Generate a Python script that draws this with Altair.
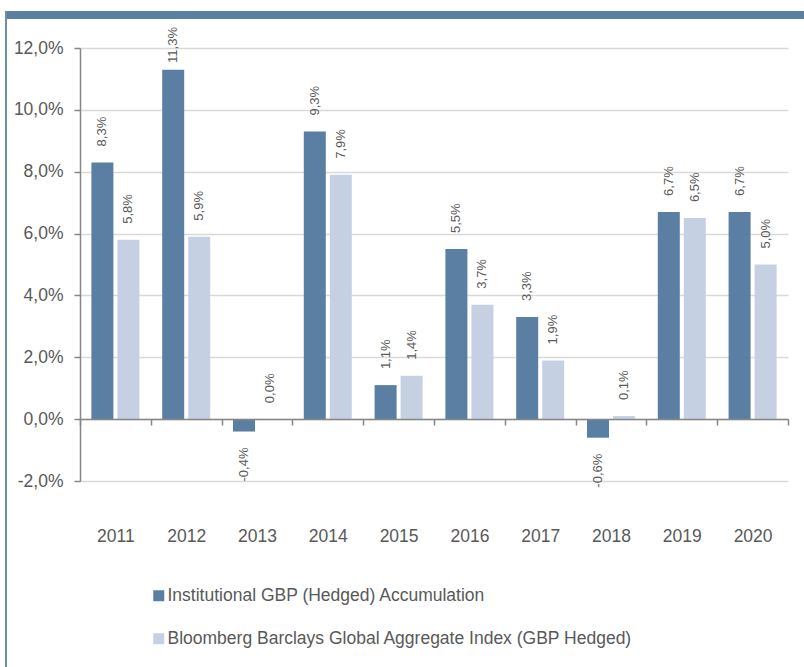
import altair as alt
import pandas as pd

years = ["2011", "2012", "2013", "2014", "2015", "2016", "2017", "2018", "2019", "2020"]
fund = [8.3, 11.3, -0.4, 9.3, 1.1, 5.5, 3.3, -0.6, 6.7, 6.7]
index = [5.8, 5.9, 0.0, 7.9, 1.4, 3.7, 1.9, 0.1, 6.5, 5.0]
series = ["Institutional GBP (Hedged) Accumulation",
          "Bloomberg Barclays Global Aggregate Index (GBP Hedged)"]
colors = ["#5b7fa3", "#c5d1e3"]
y_ticks = [-0.02, 0.0, 0.02, 0.04, 0.06, 0.08, 0.10, 0.12]

rows = []
for i, yr in enumerate(years):
    rows.append({"year": yr, "series": series[0], "value": fund[i] / 100})
    rows.append({"year": yr, "series": series[1], "value": index[i] / 100})
df = pd.DataFrame(rows)

W, H = 708, 433
FONT = "Liberation Sans"
GRAY = "#595959"
AXIS = "#868686"
FS = 17.5
ymin, ymax = -0.02, 0.12
zero_offset = -round(H * (0 - ymin) / (ymax - ymin))

lab_expr = "replace(replace(format(datum.value, '.1%'), '.', ','), '\u2212', '-')"

yscale = alt.Scale(domain=[ymin, ymax], nice=False, zero=False)

x = alt.X("year:N", sort=years,
          scale=alt.Scale(paddingInner=0, paddingOuter=0),
          axis=alt.Axis(title=None, labelAngle=0, offset=zero_offset,
                        domainColor=AXIS, domainWidth=1.5,
                        tickColor=AXIS, tickWidth=1.5, tickSize=6,
                        tickBand="extent", labelPadding=102,
                        labelFontSize=FS, labelColor=GRAY, labelFont=FONT,
                        grid=False, zindex=1))
xo = alt.XOffset("series:N", sort=series,
                 scale=alt.Scale(domain=series, paddingInner=0.154, paddingOuter=0.438))

y = alt.Y("value:Q", scale=yscale,
          axis=alt.Axis(title=None, values=y_ticks,
                        labelExpr=lab_expr,
                        labelFontSize=FS, labelColor=GRAY, labelFont=FONT,
                        labelPadding=11,
                        domainColor=AXIS, domainWidth=1.5,
                        tickColor=AXIS, tickWidth=1.5, tickSize=6,
                        gridColor="#d9d9d9", gridWidth=1.5))

color = alt.Color("series:N", sort=series,
                  scale=alt.Scale(domain=series, range=colors),
                  legend=alt.Legend(title=None, orient="none", legendX=70, legendY=539,
                                    direction="vertical", symbolType="square",
                                    symbolSize=121, symbolStrokeWidth=0,
                                    labelFontSize=FS, labelColor=GRAY, labelFont=FONT,
                                    labelLimit=0, rowPadding=24, labelOffset=0,
                                    padding=0))

base = alt.Chart(df)

bars = base.mark_bar().encode(x=x, xOffset=xo, y=y, color=color)

pos_labels = base.transform_filter("datum.value >= 0").transform_calculate(
    lab=lab_expr, ly="min(datum.value, 0.11)"
).mark_text(angle=270, align="left", baseline="middle", dx=16,
            fontSize=13, font=FONT, color=GRAY).encode(
    x=x, xOffset=xo, y=alt.Y("ly:Q", scale=yscale), text="lab:N")

neg_labels = base.transform_filter("datum.value < 0").transform_calculate(
    lab=lab_expr
).mark_text(angle=270, align="right", baseline="middle", dx=-16,
            fontSize=13, font=FONT, color=GRAY).encode(
    x=x, xOffset=xo, y=alt.Y("value:Q", scale=yscale), text="lab:N")

one = alt.Data(values=[{}])
band = alt.Chart(one).mark_rect(color="#5b7fa3").encode(
    x=alt.value(-75), x2=alt.value(724), y=alt.value(-37), y2=alt.value(-29))
left = alt.Chart(one).mark_rule(color="#6a8cb0", strokeWidth=2).encode(
    x=alt.value(-74), y=alt.value(-37), y2=alt.value(620))

chart = alt.layer(bars, pos_labels, neg_labels, band, left).properties(
    width=W, height=H,
    padding={"left": 5, "top": 10, "right": 0, "bottom": 0},
    background="white",
).configure_view(stroke=None)

chart.save("out.html", embed_options={"renderer": "svg", "actions": False})
